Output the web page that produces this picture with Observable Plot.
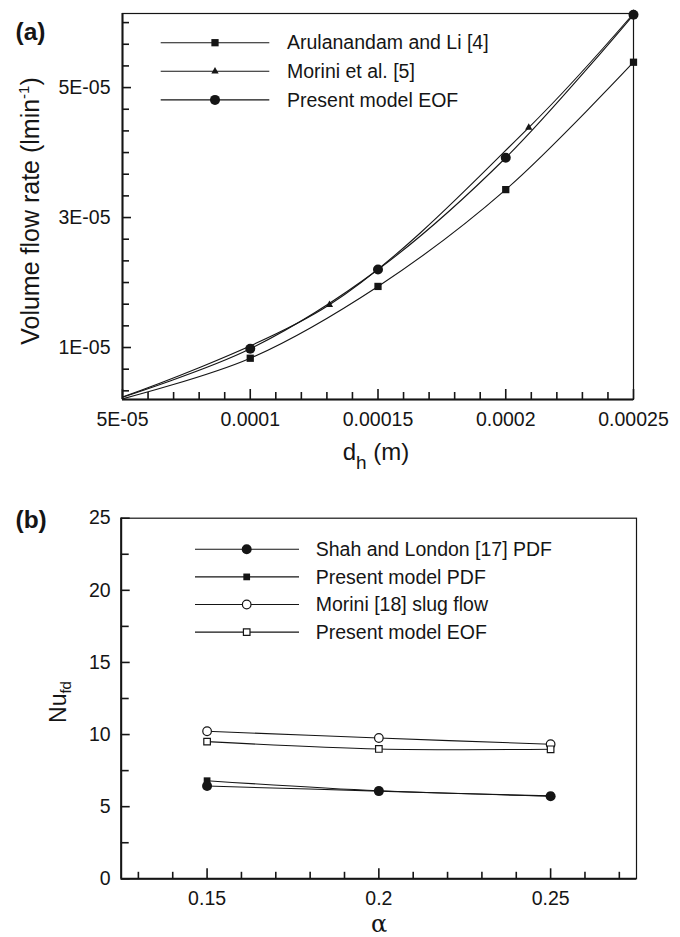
<!DOCTYPE html>
<html><head><meta charset="utf-8">
<script src="https://cdn.jsdelivr.net/npm/d3@7"></script>
<script src="https://cdn.jsdelivr.net/npm/@observablehq/plot@0.6"></script>
<style>
html,body{margin:0;padding:0;background:#fff;}
#wrap{position:relative;width:680px;height:937px;overflow:hidden;background:#fff;}
#wrap svg{display:block;}
</style></head><body><div id="wrap"></div>
<script>
// ---------- Panel (a) data ----------
const dh = [5e-5, 1e-4, 1.5e-4, 2e-4, 2.5e-4];
const flowArulanandam = [2.1e-6, 8.35e-6, 1.94e-5, 3.43e-5, 5.39e-5];
const flowPresentEOF = [2.35e-6, 9.8e-6, 2.2e-5, 3.92e-5, 6.12e-5];
const dhMorini = [5e-5, 1.31e-4, 2.09e-4, 2.5e-4];
const flowMorini = [2.4e-6, 1.657e-5, 4.385e-5, 6.14e-5];
const seriesA = ["Arulanandam and Li [4]", "Morini et al. [5]", "Present model EOF"];
const xDomainA = [5e-5, 2.5e-4];
const yDomainA = [2e-6, 6.14e-5];
const xTicksA = [5e-5, 1e-4, 1.5e-4, 2e-4, 2.5e-4];
const xTickLabelsA = ["5E-05", "0.0001", "0.00015", "0.0002", "0.00025"];
const yTicksA = [1e-5, 3e-5, 5e-5];
const yTickLabelsA = ["1E-05", "3E-05", "5E-05"];

// ---------- Panel (b) data ----------
const alpha = [0.15, 0.2, 0.25];
const nuShahLondon = [6.43, 6.08, 5.72];
const nuPresentPDF = [6.8, 6.1, 5.75];
const nuMoriniSlug = [10.23, 9.76, 9.33];
const nuPresentEOF = [9.51, 9.0, 8.98];
const seriesB = ["Shah and London [17] PDF", "Present model PDF", "Morini [18] slug flow", "Present model EOF"];
const xDomainB = [0.125, 0.275];
const yDomainB = [0, 25];
const xTicksB = [0.15, 0.2, 0.25];
const xTickLabelsB = ["0.15", "0.2", "0.25"];
const yTicksB = [0, 5, 10, 15, 20, 25];
const yTickLabelsB = ["0", "5", "10", "15", "20", "25"];

// ---------- helpers ----------
const font = "'Liberation Sans', Arial, Helvetica, sans-serif";
const ink = "#151515";
const rows = (xs, ys) => xs.map((x, i) => ({x, y: ys[i]}));
const fmt = (ticks, labels) => { const m = new Map(ticks.map((t, i) => [t, labels[i]])); return d => m.get(d); };

const xMinorA = d3.range(6, 25).filter(k => k % 5 !== 0).map(k => k * 1e-5);
const yMinorA = d3.range(1, 19).filter(k => k % 6 !== 3).map(k => k * 1e-5 / 3);
const xMinorB = d3.range(13, 28).filter(k => k % 5 !== 0).map(k => k / 100);
const yMinorB = [2.5, 7.5, 12.5, 17.5, 22.5];

const arul = rows(dh, flowArulanandam);
const eofA = rows(dh, flowPresentEOF);
const mori = rows(dhMorini, flowMorini);

const shah = rows(alpha, nuShahLondon);
const pdf = rows(alpha, nuPresentPDF);
const slug = rows(alpha, nuMoriniSlug);
const eofB = rows(alpha, nuPresentEOF);

const lineOpts = {x: "x", y: "y", curve: "catmull-rom", stroke: ink, strokeWidth: 1.1};

// layout of the two panels
const LA = {width: 680, height: 480, marginTop: 13, marginBottom: 81, marginLeft: 122, marginRight: 47};
const LB = {width: 680, height: 457, marginTop: 37.7, marginBottom: 58.7, marginLeft: 120.7, marginRight: 44};
const frameH = L => L.height - L.marginTop - L.marginBottom;
const frameW = L => L.width - L.marginLeft - L.marginRight;

// inward tick marks: frame-spanning ticks inset to a short stub on the axis
const xTicks = (L, values, len) => Plot.tickX(values, {x: d => d, insetTop: frameH(L) - len, stroke: ink, strokeWidth: 1.6});
const yTicks = (L, values, len) => Plot.tickY(values, {y: d => d, insetRight: frameW(L) - len, stroke: ink, strokeWidth: 1.6});

const plotA = Plot.plot({
  ...LA,
  x: {domain: xDomainA}, y: {domain: yDomainA},
  style: {fontFamily: font, fontSize: "19.5px", color: ink, background: "white"},
  marks: [
    Plot.frame({fill: "none", stroke: ink, strokeWidth: 1.2}),
    Plot.ruleX([xDomainA[0]], {stroke: ink, strokeWidth: 2}),
    Plot.ruleY([yDomainA[0]], {stroke: ink, strokeWidth: 2}),
    xTicks(LA, xMinorA, 7),
    xTicks(LA, xTicksA, 10),
    yTicks(LA, yMinorA, 7),
    yTicks(LA, yTicksA, 9),
    Plot.axisX(xTicksA, {tickSize: 0, tickPadding: 13, tickFormat: fmt(xTicksA, xTickLabelsA), label: null}),
    Plot.axisY(yTicksA, {tickSize: 0, tickPadding: 12, tickFormat: fmt(yTicksA, yTickLabelsA), label: null}),
    Plot.line(arul, lineOpts),
    Plot.line(mori, lineOpts),
    Plot.line(eofA, lineOpts),
    Plot.dot(arul.slice(1), {x: "x", y: "y", symbol: "square", r: 4.1, fill: ink, stroke: "none"}),
    Plot.dot(mori.slice(1), {x: "x", y: "y", symbol: "triangle", r: 2.7, fill: ink, stroke: "none"}),
    Plot.dot(eofA.slice(1), {x: "x", y: "y", symbol: "circle", r: 5, fill: ink, stroke: "none"})
  ]
});

const plotB = Plot.plot({
  ...LB,
  x: {domain: xDomainB}, y: {domain: yDomainB},
  style: {fontFamily: font, fontSize: "19.5px", color: ink, background: "white"},
  marks: [
    Plot.frame({fill: "none", stroke: ink, strokeWidth: 1.2}),
    Plot.ruleX([xDomainB[0]], {stroke: ink, strokeWidth: 2}),
    Plot.ruleY([yDomainB[0]], {stroke: ink, strokeWidth: 2}),
    xTicks(LB, xMinorB, 6.5),
    xTicks(LB, xTicksB, 10),
    yTicks(LB, yMinorB, 8),
    yTicks(LB, yTicksB, 9),
    Plot.axisX(xTicksB, {tickSize: 0, tickPadding: 12, tickFormat: fmt(xTicksB, xTickLabelsB), label: null}),
    Plot.axisY(yTicksB, {tickSize: 0, tickPadding: 10.5, tickFormat: fmt(yTicksB, yTickLabelsB), label: null}),
    Plot.line(slug, lineOpts),
    Plot.line(eofB, lineOpts),
    Plot.line(pdf, lineOpts),
    Plot.line(shah, lineOpts),
    Plot.dot(slug, {x: "x", y: "y", symbol: "circle", r: 4.3, fill: "white", stroke: ink, strokeWidth: 1.2}),
    Plot.dot(eofB, {x: "x", y: "y", symbol: "square", r: 3.7, fill: "white", stroke: ink, strokeWidth: 1.2}),
    Plot.dot(pdf, {x: "x", y: "y", symbol: "square", r: 3.8, fill: ink, stroke: "none"}),
    Plot.dot(shah, {x: "x", y: "y", symbol: "circle", r: 5, fill: ink, stroke: "none"})
  ]
});

const wrap = document.getElementById("wrap");
wrap.appendChild(plotA);
wrap.appendChild(plotB);

// ---------- overlays: panel letters, axis titles, legends ----------
function legend(svg, x1, x2, xm, xt, y0, dy, items) {
  const g = d3.select(svg).append("g").attr("font-family", font).attr("font-size", 19.5)
    .attr("fill", ink).attr("text-anchor", "start");
  items.forEach((it, i) => {
    const y = y0 + i * dy;
    g.append("line").attr("x1", x1).attr("x2", x2).attr("y1", y).attr("y2", y)
      .attr("stroke", ink).attr("stroke-width", 1.1);
    g.append("path").attr("d", d3.symbol().type(it.type).size(Math.PI * it.r * it.r)())
      .attr("transform", `translate(${xm},${y})`)
      .attr("fill", it.fill).attr("stroke", it.stroke).attr("stroke-width", 1.2);
    g.append("text").attr("x", xt).attr("y", y).attr("dy", "0.34em").text(it.label);
  });
}

{
  const s = d3.select(plotA);
  s.append("text").attr("x", 15.5).attr("y", 40).attr("text-anchor", "start").attr("font-family", font)
    .attr("font-size", 24.5).attr("font-weight", "bold").attr("fill", ink).text("(a)");
  const yl = s.append("text").attr("transform", "translate(39.3,211) rotate(-90)")
    .attr("text-anchor", "middle").attr("font-family", font).attr("font-size", 25).attr("fill", ink);
  yl.append("tspan").text("Volume flow rate (lmin");
  yl.append("tspan").attr("font-size", 15).attr("dy", -10).text("-1");
  yl.append("tspan").attr("dy", 10).text(")");
  const xl = s.append("text").attr("x", 376).attr("y", 460)
    .attr("text-anchor", "middle").attr("font-family", font).attr("font-size", 24).attr("fill", ink);
  xl.append("tspan").text("d");
  xl.append("tspan").attr("font-size", 19).attr("dy", 9).text("h");
  xl.append("tspan").attr("dy", -9).text(" (m)");
  legend(plotA, 160.7, 269.3, 215, 287, 42.7, 28.6, [
    {label: seriesA[0], type: d3.symbolSquare, r: 4.1, fill: ink, stroke: "none"},
    {label: seriesA[1], type: d3.symbolTriangle, r: 2.7, fill: ink, stroke: "none"},
    {label: seriesA[2], type: d3.symbolCircle, r: 5, fill: ink, stroke: "none"}
  ]);
}
{
  const s = d3.select(plotB);
  s.append("text").attr("x", 15.5).attr("y", 48.4).attr("text-anchor", "start").attr("font-family", font)
    .attr("font-size", 24.5).attr("font-weight", "bold").attr("fill", ink).text("(b)");
  const yl = s.append("text").attr("transform", "translate(66,222) rotate(-90)")
    .attr("text-anchor", "middle").attr("font-family", font).attr("font-size", 23).attr("fill", ink);
  yl.append("tspan").text("Nu");
  yl.append("tspan").attr("font-size", 15).attr("dy", 5).text("fd");
  s.append("text").attr("x", 379).attr("y", 452)
    .attr("text-anchor", "middle").attr("font-family", "'DejaVu Serif', 'Liberation Serif', serif")
    .attr("font-size", 24).attr("fill", ink).text("α");
  legend(plotB, 195, 299, 246.7, 315.7, 69.3, 27.6, [
    {label: seriesB[0], type: d3.symbolCircle, r: 5, fill: ink, stroke: "none"},
    {label: seriesB[1], type: d3.symbolSquare, r: 3.8, fill: ink, stroke: "none"},
    {label: seriesB[2], type: d3.symbolCircle, r: 4.3, fill: "white", stroke: ink},
    {label: seriesB[3], type: d3.symbolSquare, r: 3.7, fill: "white", stroke: ink}
  ]);
}
</script>
</body></html>
